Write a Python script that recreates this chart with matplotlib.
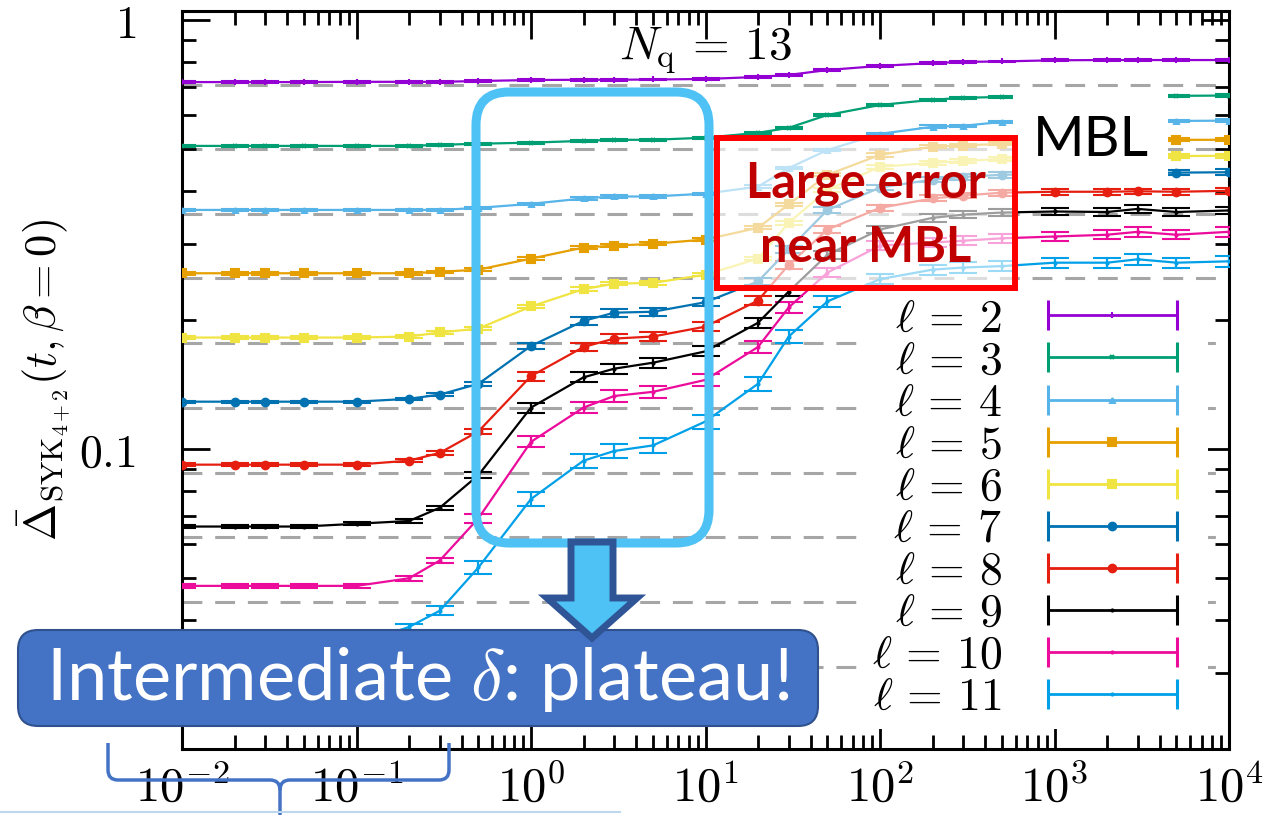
# time evolution of Delta_SYK for different l, N_q = 13, with slide annotations
import numpy as np
import matplotlib
matplotlib.use('Agg')
import matplotlib.pyplot as plt
from matplotlib.lines import Line2D
from matplotlib.patches import Rectangle, FancyBboxPatch, Polygon, PathPatch
from matplotlib.path import Path
from matplotlib.ticker import LogLocator, NullFormatter
from matplotlib.legend_handler import HandlerBase

plt.rcParams['mathtext.fontset'] = 'cm'
plt.rcParams['font.family'] = ['DejaVu Serif']

# ---- data ----
t = [0.01, 0.02, 0.03, 0.05, 0.1, 0.2, 0.3, 0.5, 1, 2, 3, 5, 10, 20, 30, 50,
     100, 200, 300, 500, 1000, 2000, 3000, 5000, 10000]

l2 = [0.717, 0.717, 0.717, 0.717, 0.718, 0.718, 0.718, 0.721, 0.725, 0.726, 0.726, 0.727, 0.729,
      0.737, 0.745, 0.765, 0.782, 0.794, 0.799, 0.801, 0.806, 0.807, 0.807, 0.807, 0.807]
l3 = [0.509, 0.509, 0.509, 0.509, 0.509, 0.509, 0.512, 0.515, 0.518, 0.523, 0.526, 0.526, 0.532,
      0.546, 0.561, 0.601, 0.634, 0.652, 0.659, 0.662, 0.664, 0.665, 0.666, 0.666, 0.667]
l4 = [0.361, 0.361, 0.361, 0.361, 0.361, 0.361, 0.361, 0.365, 0.373, 0.384, 0.388, 0.388, 0.394,
      0.409, 0.452, 0.498, 0.543, 0.564, 0.567, 0.579, 0.580, 0.581, 0.582, 0.582, 0.583]
l5 = [0.257, 0.257, 0.257, 0.257, 0.257, 0.257, 0.259, 0.262, 0.278, 0.295, 0.298, 0.301, 0.308,
      0.328, 0.372, 0.436, 0.485, 0.507, 0.510, 0.515, 0.520, 0.522, 0.524, 0.526, 0.526]
l6 = [0.182, 0.182, 0.182, 0.182, 0.182, 0.183, 0.187, 0.191, 0.215, 0.236, 0.243, 0.244, 0.255,
      0.278, 0.337, 0.402, 0.455, 0.465, 0.469, 0.475, 0.478, 0.480, 0.481, 0.482, 0.483]
l7 = [0.129, 0.129, 0.129, 0.129, 0.129, 0.131, 0.134, 0.142, 0.174, 0.199, 0.208, 0.209, 0.220,
      0.246, 0.292, 0.361, 0.407, 0.425, 0.431, 0.436, 0.438, 0.439, 0.440, 0.441, 0.442]
l8 = [0.092, 0.092, 0.092, 0.092, 0.092, 0.094, 0.098, 0.110, 0.148, 0.173, 0.181, 0.183, 0.193,
      0.222, 0.269, 0.325, 0.365, 0.384, 0.390, 0.396, 0.398, 0.398, 0.399, 0.398, 0.400]
l9 = [0.066, 0.066, 0.066, 0.066, 0.067, 0.068, 0.073, 0.087, 0.125, 0.147, 0.154, 0.159, 0.169,
      0.197, 0.233, 0.284, 0.325, 0.346, 0.352, 0.356, 0.358, 0.357, 0.363, 0.357, 0.360]
l10 = [0.048, 0.048, 0.048, 0.048, 0.048, 0.050, 0.055, 0.069, 0.104, 0.125, 0.133, 0.136, 0.145,
       0.173, 0.214, 0.258, 0.298, 0.303, 0.306, 0.310, 0.313, 0.316, 0.321, 0.316, 0.321]
l11 = [0.034, 0.034, 0.034, 0.034, 0.035, 0.0385, 0.042, 0.053, 0.0765, 0.094, 0.099, 0.102, 0.116,
       0.142, 0.183, 0.221, 0.249, 0.262, 0.265, 0.267, 0.272, 0.272, 0.277, 0.272, 0.274]

# relative errors in percent
e2 = [0.5, 0.5, 0.5, 0.5, 0.5, 0.5, 0.5, 0.5, 0.5, 0.5, 0.5, 0.5, 0.5,
      0.5, 0.5, 0.5, 0.5, 0.5, 0.5, 0.5, 0.5, 0.5, 0.5, 0.5, 0.5]
e3 = [0.5, 0.5, 0.5, 0.5, 0.5, 0.5, 0.5, 0.5, 0.5, 0.5, 0.5, 0.5, 0.5,
      0.6, 0.6, 0.6, 0.6, 0.6, 0.6, 0.6, 0.6, 0.6, 0.6, 0.6, 0.6]
e4 = [0.6, 0.6, 0.6, 0.6, 0.6, 0.6, 0.6, 0.6, 0.6, 0.6, 0.6, 0.6, 0.6,
      0.7, 0.7, 0.7, 0.7, 0.7, 0.7, 0.7, 0.7, 0.7, 0.7, 0.7, 0.7]
e5 = [0.7, 0.7, 0.7, 0.7, 0.7, 0.7, 0.7, 0.7, 0.8, 0.8, 0.8, 0.8, 0.8,
      0.9, 0.9, 0.9, 0.9, 0.9, 0.9, 0.9, 0.9, 0.9, 0.9, 0.9, 0.9]
e6 = [0.7, 0.7, 0.7, 0.7, 0.7, 0.7, 0.7, 0.8, 0.9, 0.9, 0.9, 0.9, 0.9,
      1.0, 1.0, 1.0, 1.0, 1.0, 1.0, 1.0, 1.0, 1.0, 1.0, 1.0, 1.0]
e7 = [0.6, 0.6, 0.6, 0.6, 0.6, 0.7, 0.8, 1.0, 1.8, 2.1, 2.1, 2.1, 2.1,
      2.0, 1.8, 1.6, 1.5, 1.5, 1.5, 1.5, 1.5, 1.5, 1.5, 1.5, 1.5]
e8 = [0.7, 0.7, 0.7, 0.7, 0.7, 0.8, 1.0, 1.5, 2.4, 2.3, 2.3, 2.3, 2.3,
      2.2, 2.0, 1.8, 1.6, 1.6, 1.5, 1.5, 1.5, 1.5, 1.5, 1.5, 1.5]
e9 = [0.9, 0.9, 0.9, 0.9, 0.9, 1.0, 1.2, 1.6, 2.7, 2.7, 2.7, 2.7, 2.7,
      2.6, 2.4, 2.2, 2.0, 2.0, 2.0, 2.0, 2.0, 2.0, 2.0, 2.0, 2.0]
e10 = [1.1, 1.1, 1.1, 1.1, 1.1, 1.2, 1.5, 2.5, 3.0, 3.0, 3.0, 3.0, 3.0,
       3.0, 2.8, 2.6, 2.5, 2.5, 2.5, 2.5, 2.5, 2.5, 2.5, 2.5, 2.5]
e11 = [1.2, 1.2, 1.2, 1.2, 1.2, 1.6, 2.5, 3.5, 3.8, 3.8, 3.8, 3.8, 3.8,
       3.6, 3.4, 3.0, 2.8, 2.8, 2.8, 2.8, 2.8, 2.8, 2.8, 2.8, 2.8]

# dashed reference levels
levels = [0.707, 0.5, 0.354, 0.25, 0.177, 0.125, 0.088, 0.0625, 0.044, 0.031]

ells = [2, 3, 4, 5, 6, 7, 8, 9, 10, 11]
curves = [l2, l3, l4, l5, l6, l7, l8, l9, l10, l11]
errs = [e2, e3, e4, e5, e6, e7, e8, e9, e10, e11]
colors = ['#9400d3', '#009e73', '#56b4e9', '#e69f00', '#f0e442',
          '#0072b2', '#e51e10', '#000000', '#ec0c9c', '#00a0e8']
markers = ['|', 'x', '^', 's', 's', 'o', 'o', '.', '.', '.']
msizes = [5, 3.5, 3.5, 6, 6, 5.5, 5.5, 3, 3, 3]

W, H = 1268, 815
fig = plt.figure(figsize=(W / 100, H / 100), dpi=100)
ax = fig.add_axes([182 / W, (H - 749) / H, (1229 - 182) / W, (749 - 11) / H])

for v in levels:
    ax.axhline(v, color='#a6a6a6', lw=2.2, ls=(0, (6.5, 4.2)), zorder=1)

handles = []
for l, y, e, c, m, ms in zip(ells, curves, errs, colors, markers, msizes):
    y = np.array(y)
    yerr = y * np.array(e) / 100
    ax.errorbar(t, y, yerr=yerr, color=c, marker=m, ms=ms, mew=1.5, lw=1.6,
                elinewidth=1.6, capsize=10, capthick=2.6, zorder=3)
    handles.append(Line2D([], [], color=c, marker=m, ms=ms, lw=1.6,
                          label=r'$\ell\,=\,%d$' % l))

ax.set_xscale('log')
ax.set_yscale('log')
ax.set_xlim(1e-2, 1e4)
ax.set_ylim(0.02, 1.05)

ax.set_xticks([1e-2, 1e-1, 1e0, 1e1, 1e2, 1e3, 1e4],
              [r'$10^{-2}$', r'$10^{-1}$', r'$10^{0}$', r'$10^{1}$', r'$10^{2}$', r'$10^{3}$', r'$10^{4}$'])
ax.xaxis.set_minor_locator(LogLocator(10, subs=np.arange(2, 10), numticks=100))
ax.xaxis.set_minor_formatter(NullFormatter())
ax.set_yticks([0.1, 1], [r'$0.1$', r'$1$'])
ax.yaxis.set_minor_locator(LogLocator(10, subs=np.arange(2, 10), numticks=100))
ax.yaxis.set_minor_formatter(NullFormatter())

ax.tick_params(which='both', direction='in', top=True, right=True, width=2)
ax.tick_params(which='major', length=20)
ax.tick_params(which='minor', length=10)
ax.tick_params(axis='x', labelsize=35, pad=11)
ax.tick_params(axis='y', labelsize=33, pad=33)
for s in ax.spines.values():
    s.set_linewidth(2.2)

ax.set_ylabel(r'$\bar{\Delta}_{\mathrm{SYK}_{4+2}}(t,\beta=0)$', fontsize=32)
ax.yaxis.set_label_coords(-0.104, 0.5)

ax.text(0.5, 0.947, r'$N_\mathrm{q}\,=\,13$', transform=ax.transAxes, fontsize=34,
        ha='center', va='center')


class ErrHandler(HandlerBase):
    # gnuplot-like key sample: horizontal line with end caps
    def create_artists(self, legend, orig, xdescent, ydescent, width, height, fontsize, trans):
        y = (height - ydescent) / 2
        x0, x1 = -xdescent, width - xdescent
        c = orig.get_color()
        line = Line2D([x0, x1], [y, y], color=c, lw=2)
        caps = Line2D([x0, x1], [y, y], ls='none', marker='|', ms=22, mew=2.2, color=c)
        dot = Line2D([(x0 + x1) / 2], [y], ls='none', marker=orig.get_marker(),
                     ms=orig.get_markersize(), mew=1.5, color=c)
        for a in (line, caps, dot):
            a.set_transform(trans)
        return [line, caps, dot]


leg = ax.legend(handles=handles, handler_map={Line2D: ErrHandler()}, markerfirst=False,
                loc='upper right', bbox_to_anchor=(0.959, 0.626), fontsize=33,
                handlelength=2.82, handletextpad=1.0, labelspacing=-0.07, borderpad=0.2,
                borderaxespad=0, frameon=True, fancybox=False, framealpha=1,
                facecolor='white', edgecolor='none')
leg.set_zorder(5)
# the key's white area reaches a bit further right than the frame
ax.add_patch(Rectangle((0.95, 0.04), 0.03, 0.58, transform=ax.transAxes,
                       fc='white', ec='none', zorder=2))


# ---- slide annotations (pixel positions, y measured from the top) ----
def px(x, y):
    return (x / 100, (H - y) / 100)


tr = fig.dpi_scale_trans

# white box behind "MBL"
fig.add_artist(Rectangle(px(1013, 186), 1.55, 0.98, transform=tr, fc='white', ec='none', zorder=1))
fig.text(*px(1091, 141), 'MBL', transform=tr, family='Lato', fontsize=40,
         ha='center', va='center', zorder=3)

# faded region with red frame
fig.add_artist(Rectangle(px(717, 288), 2.98, 1.50, transform=tr, fc='white', ec='none',
                         alpha=0.62, zorder=1))
fig.add_artist(Rectangle(px(717, 288), 2.98, 1.50, transform=tr, fc='none', ec='#ff0000',
                         lw=4.3, zorder=2))
fig.text(*px(866, 197), 'Large error', transform=tr, family='Lato', weight='bold',
         fontsize=35, color='#c00000', ha='center', va='baseline', zorder=3)
fig.text(*px(866, 262), 'near MBL', transform=tr, family='Lato', weight='bold',
         fontsize=35, color='#c00000', ha='center', va='baseline', zorder=3)

# light blue rounded frame around the plateau
fig.add_artist(FancyBboxPatch(px(476, 543), 2.33, 4.51, boxstyle='round,pad=0,rounding_size=0.33',
                              transform=tr, fill=False, ec='#4ec1f5', lw=6.5, zorder=2))

# blue callout box
fig.add_artist(FancyBboxPatch(px(18, 726), 8.0, 0.96, boxstyle='round,pad=0,rounding_size=0.2',
                              transform=tr, fc='#4472c4', ec='#2f528f', lw=1.5, zorder=3))
fig.text(*px(418, 680), r'Intermediate $\delta$: plateau!', transform=tr, family='Lato',
         fontsize=52, color='white', ha='center', va='center', zorder=6)

# down arrow
arrow = [px(571, 542), px(613, 542), px(613, 598), px(637, 598), px(592, 638),
         px(547, 598), px(571, 598)]
fig.add_artist(Polygon(arrow, closed=True, transform=tr, fc='#4ec1f5', ec='#2f5597',
                       lw=5, joinstyle='miter', zorder=5))

# curly brace under the x axis
brace = [px(108, 743), px(108, 770), px(108, 780), px(118, 780), px(270, 780), px(280, 780),
         px(280, 790), px(280, 815), px(280, 790), px(280, 780), px(290, 780), px(439, 780),
         px(449, 780), px(449, 770), px(449, 743)]
codes = [Path.MOVETO, Path.LINETO, Path.CURVE3, Path.CURVE3, Path.LINETO, Path.CURVE3,
         Path.CURVE3, Path.LINETO, Path.MOVETO, Path.CURVE3, Path.CURVE3, Path.LINETO,
         Path.CURVE3, Path.CURVE3, Path.LINETO]
fig.add_artist(PathPatch(Path(brace, codes), transform=tr, fill=False, ec='#4472c4',
                         lw=2.5, zorder=4))
fig.add_artist(Line2D([0, 6.2], [0.03, 0.03], transform=tr, color='#bdd7ee', lw=1.5, zorder=4))

fig.savefig('out.png', dpi=100)
